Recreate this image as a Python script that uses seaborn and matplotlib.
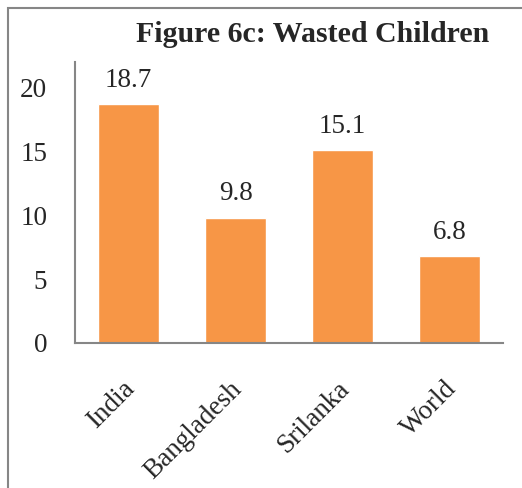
import matplotlib
matplotlib.use("Agg")
import matplotlib.pyplot as plt
import matplotlib.transforms as mtransforms
import seaborn as sns
import pandas as pd
from matplotlib.patches import Rectangle

# === DATA ===
countries = ["India", "Bangladesh", "Srilanka", "World"]
wasted = [18.7, 9.8, 15.1, 6.8]
df = pd.DataFrame({"Country": countries, "Wasted": wasted})

# === STYLE ===
sns.set_style("white")
plt.rcParams["font.family"] = ["Liberation Serif", "DejaVu Serif"]

fig = plt.figure(figsize=(5.22, 4.88), dpi=100)
ax = fig.add_axes([75 / 522, 1 - 343 / 488, 428 / 522, 281 / 488])

sns.barplot(data=df, x="Country", y="Wasted", color="#F79646", width=0.57,
            saturation=1, ax=ax)

for i, v in enumerate(wasted):
    ax.text(i, v + 0.9, f"{v}", ha="center", va="bottom", fontsize=19.5)

ax.set_ylim(0, 22)
ax.set_xlim(-0.5, 3.5)
ax.set_yticks([0, 5, 10, 15, 20])
ax.tick_params(axis="y", length=0, labelsize=19.5, pad=20)
ax.tick_params(axis="x", length=0, labelsize=19.5, pad=24)
shift = mtransforms.ScaledTranslation(-6 / 100, 0, fig.dpi_scale_trans)
for lbl in ax.get_xticklabels():
    lbl.set_rotation(45)
    lbl.set_ha("right")
    lbl.set_rotation_mode("anchor")
    lbl.set_transform(lbl.get_transform() + shift)
ax.set_xlabel("")
ax.set_ylabel("")

for side in ["top", "right"]:
    ax.spines[side].set_visible(False)
for side in ["left", "bottom"]:
    ax.spines[side].set_color("#868686")
    ax.spines[side].set_linewidth(1.5)

fig.text(313 / 522, 1 - 35 / 488, "Figure 6c: Wasted Children", ha="center",
         va="center", fontsize=21.5, fontweight="bold")

# outer chart border (only top-left visible in crop)
fig.patches.append(Rectangle((8 / 522, -0.1), 1.2, 1 - 8 / 488 + 0.1,
                             transform=fig.transFigure, fill=False,
                             edgecolor="#868686", linewidth=1.5))

fig.savefig("out.png", dpi=100)
